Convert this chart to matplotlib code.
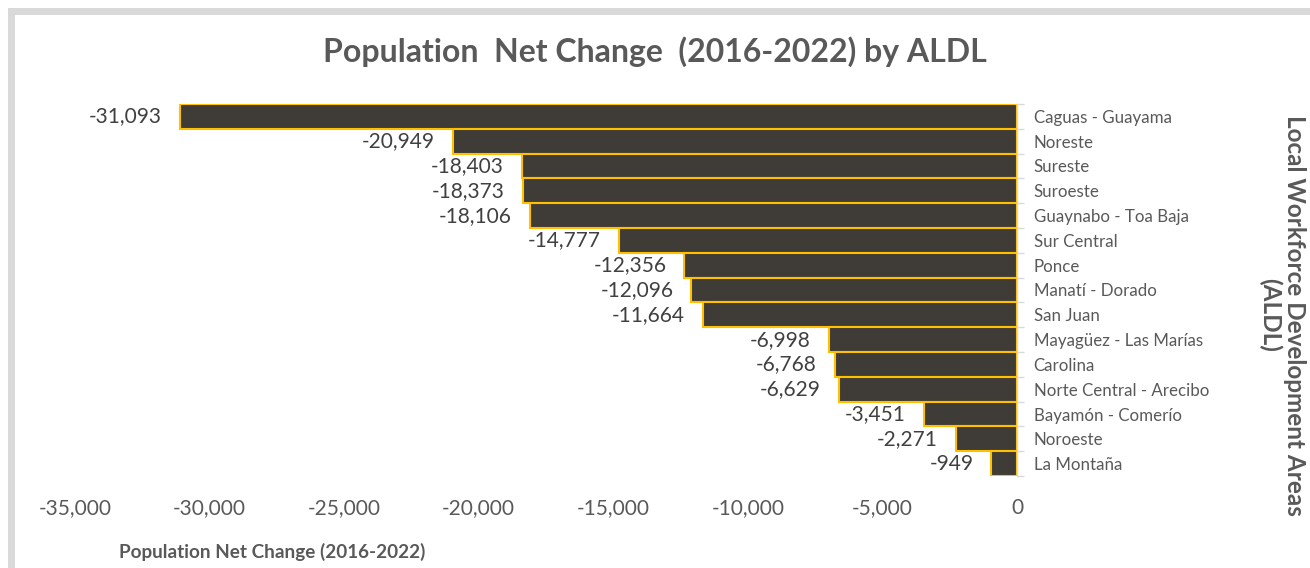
import matplotlib
matplotlib.use("Agg")
import matplotlib.pyplot as plt
from matplotlib.patches import Rectangle
from matplotlib.ticker import FuncFormatter, FixedLocator

plt.rcParams['font.family'] = ['Lato', 'DejaVu Sans']
plt.rcParams['axes.unicode_minus'] = False

areas = [
    "Caguas - Guayama", "Noreste", "Sureste", "Suroeste", "Guaynabo - Toa Baja",
    "Sur Central", "Ponce", "Manatí - Dorado", "San Juan", "Mayagüez - Las Marías",
    "Carolina", "Norte Central - Arecibo", "Bayamón - Comerío", "Noroeste", "La Montaña",
]
net_change = [
    -31093, -20949, -18403, -18373, -18106,
    -14777, -12356, -12096, -11664, -6998,
    -6768, -6629, -3451, -2271, -949,
]
x_ticks = [-35000, -30000, -25000, -20000, -15000, -10000, -5000, 0]

W, H, DPI = 1310, 568, 100
TXT = "#595959"
fig = plt.figure(figsize=(W / DPI, H / DPI), dpi=DPI)
fig.patch.set_facecolor("white")

# light grey chart-area frame
fig.patches.append(Rectangle((11 / W, -0.2), 1.2, 1.2 - 11 / H,
                             transform=fig.transFigure, fill=False,
                             edgecolor="#d9d9d9", linewidth=7 * 72 / DPI))

ax = fig.add_axes([75 / W, 1 - 476 / H, (1017 - 75) / W, (476 - 104) / H])
pos = list(range(len(areas)))
ax.barh(pos, net_change, height=1.0, color="#3f3b36",
        edgecolor="#ffc000", linewidth=1.5)

for p, v in zip(pos, net_change):
    ax.annotate(f"{v:,}", xy=(v, p), xytext=(-13, 0), textcoords="offset points",
                ha="right", va="center", fontsize=15, color="#404040")

ax.set_xlim(-35000, 0)
ax.set_ylim(len(areas) - 0.5, -0.5)
ax.xaxis.set_major_locator(FixedLocator(x_ticks))
ax.xaxis.set_major_formatter(FuncFormatter(lambda v, _: f"{v:,.0f}"))
ax.tick_params(axis="x", length=0, pad=16, labelsize=15, labelcolor=TXT)

ax.yaxis.tick_right()
ax.set_yticks(pos)
ax.set_yticklabels(areas)
ax.set_yticks([p - 0.5 for p in pos] + [len(areas) - 0.5], minor=True)
ax.tick_params(axis="y", which="major", length=0, pad=12, labelsize=12.2, labelcolor=TXT)
ax.tick_params(axis="y", which="minor", length=5, color="#d9d9d9", width=1)

for s in ["top", "bottom", "left"]:
    ax.spines[s].set_visible(False)
ax.spines["right"].set_color("#d9d9d9")
ax.spines["right"].set_linewidth(1)

fig.text(0.5, 1 - 52 / H, "Population  Net Change  (2016-2022) by ALDL",
         ha="center", va="center", fontsize=23, fontweight="bold", color=TXT)
fig.text(272 / W, 1 - 552 / H, "Population Net Change (2016-2022)",
         ha="center", va="center", fontsize=13.6, fontweight="bold", color=TXT)
fig.text(1282 / W, 1 - 315 / H, "Local Workforce Development Areas\n(ALDL)",
         ha="center", va="center", rotation=270, fontsize=17.5, fontweight="bold",
         color=TXT, linespacing=1.1)

fig.savefig("out.png", dpi=DPI)
